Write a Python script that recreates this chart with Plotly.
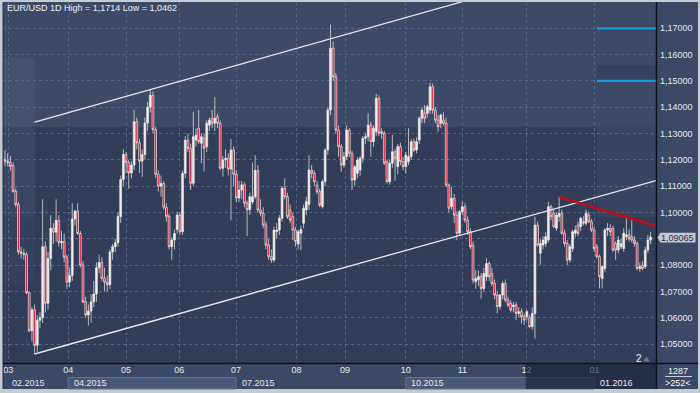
import plotly.graph_objects as go

# ---------------- data ----------------
opens = [1.1200,1.1195,1.1190,1.1180,1.1080,1.1030,1.0850,1.0845,1.0840,1.0695,
1.0550,1.0630,1.0495,1.0590,1.0600,1.0870,1.0655,1.0825,1.0940,1.0925,
1.0970,1.0885,1.0890,1.0830,1.0735,1.0760,1.0975,1.1005,1.0920,1.0800,
1.0660,1.0610,1.0625,1.0660,1.0690,1.0790,1.0810,1.0750,1.0735,1.0725,
1.0850,1.0870,1.0885,1.0985,1.1125,1.1220,1.1190,1.1150,1.1180,1.1345,
1.1265,1.1195,1.1220,1.1340,1.1400,1.1445,1.1315,1.1145,1.1100,1.1110,
1.1020,1.0985,1.0870,1.0895,1.0935,1.0990,1.0927,1.1149,1.1275,1.1244,
1.1111,1.1275,1.1320,1.1263,1.1282,1.1250,1.1332,1.1358,1.1339,1.1364,
1.1339,1.1168,1.1200,1.1206,1.1165,1.1237,1.1145,1.1055,1.1085,1.1105,
1.1035,1.1010,1.1040,1.1060,1.1160,1.1009,1.0997,1.0952,1.0876,1.0832,
1.0819,1.0927,1.0933,1.0978,1.1092,1.1060,1.1009,1.0984,1.0933,1.0880,
1.0921,1.0959,1.1009,1.1030,1.1161,1.1149,1.1104,1.1079,1.1022,1.1117,
1.1237,1.1389,1.1624,1.1516,1.1313,1.1250,1.1180,1.1212,1.1313,1.1225,
1.1123,1.1149,1.1161,1.1206,1.1282,1.1288,1.1332,1.1269,1.1307,1.1434,
1.1307,1.1301,1.1193,1.1117,1.1187,1.1231,1.1174,1.1250,1.1193,1.1174,
1.1193,1.1212,1.1269,1.1237,1.1275,1.1358,1.1377,1.1377,1.1389,1.1478,
1.1389,1.1351,1.1339,1.1351,1.1339,1.1104,1.1022,1.1054,1.0990,1.0921,
1.1003,1.1022,1.0971,1.0927,1.0876,1.0737,1.0743,1.0756,1.0711,1.0756,
1.0806,1.0768,1.0730,1.0686,1.0642,1.0686,1.0730,1.0667,1.0654,1.0642,
1.0648,1.0616,1.0623,1.0604,1.0604,1.0600,1.0566,1.0616,1.0952,1.0845,
1.0876,1.0882,1.0895,1.1022,1.0997,1.0940,1.0984,1.0997,1.0921,1.0882,
1.0819,1.0863,1.0921,1.0952,1.0946,1.0965,1.0959,1.0990,1.0965,1.0933,
1.0870,1.0832,1.0749,1.0787,1.0933,1.0940,1.0940,1.0882,1.0857,1.0870,
1.0863,1.0908,1.0915,1.0908,1.0895,1.0882,1.0787,1.0800,1.0794,1.0857,
1.0895]
highs = [1.1237,1.1225,1.1215,1.1190,1.1090,1.1040,1.0870,1.0860,1.0850,1.0700,
1.0640,1.0650,1.0610,1.0620,1.1050,1.0890,1.0850,1.0990,1.0960,1.1050,
1.0990,1.0930,1.0920,1.0840,1.0790,1.1035,1.1010,1.1035,1.0930,1.0815,
1.0680,1.0650,1.0690,1.0740,1.0810,1.0840,1.0830,1.0790,1.0760,1.0860,
1.0880,1.0900,1.1000,1.1140,1.1240,1.1230,1.1200,1.1195,1.1390,1.1360,
1.1280,1.1240,1.1360,1.1420,1.1467,1.1460,1.1325,1.1160,1.1140,1.1120,
1.1035,1.0995,1.0905,1.0935,1.1003,1.1000,1.1160,1.1290,1.1300,1.1260,
1.1383,1.1320,1.1389,1.1300,1.1300,1.1350,1.1360,1.1390,1.1438,1.1375,
1.1350,1.1215,1.1240,1.1225,1.1280,1.1250,1.1160,1.1120,1.1120,1.1115,
1.1045,1.1075,1.1190,1.1218,1.1180,1.1050,1.1020,1.0965,1.0900,1.0860,
1.0945,1.0960,1.0990,1.1100,1.1130,1.1075,1.1030,1.1000,1.0945,1.0935,
1.0950,1.1030,1.1060,1.1218,1.1180,1.1160,1.1120,1.1090,1.1125,1.1245,
1.1400,1.1714,1.1650,1.1530,1.1330,1.1260,1.1230,1.1330,1.1320,1.1235,
1.1180,1.1210,1.1215,1.1290,1.1300,1.1377,1.1345,1.1330,1.1450,1.1445,
1.1320,1.1310,1.1200,1.1200,1.1295,1.1240,1.1260,1.1265,1.1210,1.1230,
1.1320,1.1280,1.1280,1.1285,1.1365,1.1400,1.1408,1.1410,1.1493,1.1490,
1.1400,1.1370,1.1375,1.1380,1.1360,1.1110,1.1098,1.1070,1.1005,1.1010,
1.1041,1.1035,1.0985,1.0940,1.0890,1.0780,1.0780,1.0770,1.0790,1.0825,
1.0815,1.0790,1.0745,1.0700,1.0690,1.0740,1.0745,1.0680,1.0665,1.0660,
1.0660,1.0640,1.0635,1.0615,1.0630,1.0610,1.0640,1.0984,1.0965,1.0900,
1.0910,1.0925,1.1041,1.1030,1.1010,1.1000,1.1060,1.1010,1.0935,1.0895,
1.0880,1.0935,1.0950,1.0965,1.0984,1.0985,1.1010,1.1003,1.0975,1.0945,
1.0880,1.0840,1.0800,1.0940,1.0960,1.0955,1.0950,1.0890,1.0910,1.0900,
1.0940,1.0984,1.0935,1.0971,1.0910,1.0890,1.0810,1.0815,1.0870,1.0915,
1.0925]
lows = [1.1175,1.1175,1.1160,1.1075,1.1020,1.0840,1.0825,1.0820,1.0690,1.0545,
1.0510,1.0462,1.0470,1.0560,1.0580,1.0620,1.0630,1.0780,1.0880,1.0890,
1.0870,1.0860,1.0810,1.0710,1.0715,1.0740,1.0950,1.0915,1.0790,1.0655,
1.0600,1.0570,1.0580,1.0640,1.0660,1.0770,1.0740,1.0700,1.0700,1.0710,
1.0820,1.0850,1.0870,1.0960,1.1100,1.1150,1.1090,1.1130,1.1160,1.1240,
1.1150,1.1135,1.1200,1.1310,1.1380,1.1300,1.1130,1.1080,1.1060,1.1010,
1.0965,1.0860,1.0820,1.0860,1.0920,1.0915,1.0915,1.1130,1.1230,1.1085,
1.1100,1.1250,1.1260,1.1187,1.1155,1.1230,1.1310,1.1320,1.1310,1.1320,
1.1160,1.1136,1.1170,1.1140,1.0970,1.1100,1.1040,1.1040,1.1050,1.1020,
1.0910,1.0990,1.1030,1.1050,1.1000,1.0985,1.0940,1.0860,1.0820,1.0808,
1.0810,1.0900,1.0915,1.0965,1.1050,1.0975,1.0960,1.0895,1.0870,1.0860,
1.0857,1.0940,1.0990,1.1010,1.1130,1.1100,1.1070,1.1020,1.1015,1.1100,
1.1220,1.1370,1.1500,1.1300,1.1212,1.1155,1.1170,1.1200,1.1210,1.1085,
1.1100,1.1130,1.1140,1.1190,1.1260,1.1270,1.1212,1.1250,1.1290,1.1290,
1.1280,1.1180,1.1110,1.1105,1.1170,1.1120,1.1145,1.1180,1.1160,1.1149,
1.1180,1.1200,1.1230,1.1225,1.1260,1.1340,1.1340,1.1360,1.1375,1.1375,
1.1340,1.1307,1.1320,1.1330,1.1095,1.1000,1.1010,1.0960,1.0895,1.0910,
1.0990,1.0960,1.0915,1.0860,1.0730,1.0710,1.0720,1.0673,1.0700,1.0740,
1.0740,1.0720,1.0670,1.0616,1.0630,1.0670,1.0660,1.0640,1.0620,1.0620,
1.0591,1.0600,1.0578,1.0572,1.0590,1.0560,1.0555,1.0521,1.0870,1.0800,
1.0860,1.0870,1.0885,1.0970,1.0940,1.0930,1.0965,1.0915,1.0870,1.0800,
1.0810,1.0850,1.0905,1.0910,1.0930,1.0950,1.0950,1.0960,1.0925,1.0850,
1.0825,1.0711,1.0711,1.0775,1.0910,1.0910,1.0850,1.0819,1.0845,1.0860,
1.0850,1.0895,1.0890,1.0885,1.0870,1.0780,1.0775,1.0780,1.0785,1.0845,
1.0880]
closes = [1.1195,1.1190,1.1175,1.1080,1.1030,1.0850,1.0845,1.0840,1.0695,1.0550,
1.0630,1.0495,1.0590,1.0600,1.0870,1.0655,1.0825,1.0940,1.0925,1.0970,
1.0885,1.0890,1.0830,1.0735,1.0760,1.0975,1.1005,1.0920,1.0800,1.0660,
1.0610,1.0625,1.0660,1.0690,1.0790,1.0810,1.0750,1.0735,1.0725,1.0850,
1.0870,1.0885,1.0985,1.1125,1.1220,1.1190,1.1150,1.1180,1.1345,1.1265,
1.1195,1.1220,1.1340,1.1400,1.1445,1.1315,1.1145,1.1100,1.1110,1.1020,
1.0985,1.0870,1.0895,1.0920,1.0990,1.0927,1.1149,1.1275,1.1244,1.1111,
1.1288,1.1294,1.1269,1.1288,1.1244,1.1339,1.1351,1.1339,1.1358,1.1339,
1.1168,1.1200,1.1206,1.1165,1.1237,1.1145,1.1055,1.1085,1.1105,1.1035,
1.1010,1.1060,1.1060,1.1160,1.1009,1.0997,1.0952,1.0876,1.0832,1.0819,
1.0933,1.0933,1.0978,1.1092,1.1060,1.0984,1.0971,1.0933,1.0890,1.0927,
1.0935,1.1016,1.1041,1.1161,1.1149,1.1117,1.1079,1.1028,1.1117,1.1237,
1.1389,1.1624,1.1516,1.1313,1.1250,1.1180,1.1212,1.1313,1.1225,1.1123,
1.1174,1.1199,1.1206,1.1282,1.1288,1.1332,1.1269,1.1320,1.1434,1.1301,
1.1301,1.1187,1.1117,1.1187,1.1231,1.1206,1.1250,1.1193,1.1174,1.1218,
1.1212,1.1269,1.1237,1.1269,1.1358,1.1389,1.1358,1.1402,1.1478,1.1389,
1.1351,1.1326,1.1370,1.1339,1.1104,1.1016,1.1054,1.0990,1.0921,1.1003,
1.1022,1.0971,1.0927,1.0870,1.0743,1.0749,1.0756,1.0711,1.0768,1.0806,
1.0756,1.0730,1.0686,1.0642,1.0686,1.0730,1.0667,1.0648,1.0629,1.0648,
1.0616,1.0623,1.0604,1.0591,1.0623,1.0566,1.0616,1.0952,1.0876,1.0882,
1.0895,1.0908,1.1022,1.0984,1.0946,1.0990,1.0997,1.0921,1.0882,1.0819,
1.0870,1.0927,1.0933,1.0921,1.0978,1.0959,1.0997,1.0965,1.0933,1.0863,
1.0832,1.0756,1.0794,1.0933,1.0940,1.0927,1.0857,1.0857,1.0895,1.0882,
1.0921,1.0915,1.0900,1.0895,1.0882,1.0787,1.0794,1.0787,1.0857,1.0895,
1.09065]
bar_index = list(range(len(closes)))

month_tick_pos = [1.2, 23.5, 45.0, 64.8, 85.9, 108.4, 126.4, 149.0, 170.0, 193.9, 219.1]
month_tick_text = ["03", "04", "05", "06", "07", "08", "09", "10", "11", "12", "01"]
quarter_pos = [-0.74, 23.5, 85.9, 149.0, 219.1]
quarter_text = ["02.2015", "04.2015", "07.2015", "10.2015", "01.2016"]
price_ticks = [1.05, 1.06, 1.07, 1.08, 1.09, 1.10, 1.11, 1.12, 1.13, 1.14, 1.15, 1.16, 1.17]
price_text = ["1,05000", "1,06000", "1,07000", "1,08000", "", "1,10000", "1,11000",
              "1,12000", "1,13000", "1,14000", "1,15000", "1,16000", "1,17000"]

upper_channel_x = [11, 170]
upper_channel_y = [1.1343, 1.1801]
lower_channel_x = [11, 242]
lower_channel_y = [1.0462, 1.1121]
red_trend_x = [206, 242]
red_trend_y = [1.1060, 1.0948]
level_x = [220.1, 242]
level_1 = [1.17, 1.17]
level_2 = [1.15, 1.15]
last_price = "1,09065"
title_text = "EUR/USD 1D High = 1,1714 Low = 1,0462"

# ---------------- layout geometry ----------------
W, H = 700, 393
L, R, T, B = 3, 656, 2, 363
X0, X1 = -0.7435, 242.007
Y0, Y1 = 1.04278, 1.17999

def px2x(px):
    return X0 + (px - L) / (R - L) * (X1 - X0)

def py2y(py):
    return Y1 - (py - T) / (B - T) * (Y1 - Y0)

def xp(px):
    return (px - L) / (R - L)

def yp(py):
    return (B - py) / (B - T)

def x2px(x):
    return L + (x - X0) / (X1 - X0) * (R - L)

FONT = "Liberation Sans, Arial, sans-serif"
TXT = "#e4e8f0"

fig = go.Figure()

fig.add_trace(go.Candlestick(
    x=bar_index, open=opens, high=highs, low=lows, close=closes,
    increasing=dict(line=dict(color="#f2ede8", width=0.7), fillcolor="#f2ede8"),
    decreasing=dict(line=dict(color="#f2ede8", width=0.7), fillcolor="#e3092c"),
    whiskerwidth=0, hoverinfo="skip", showlegend=False))

for xs, ys, col, w in [(upper_channel_x, upper_channel_y, "#e6eaf0", 1.3),
                       (lower_channel_x, lower_channel_y, "#e6eaf0", 1.3),
                       (red_trend_x, red_trend_y, "#b5121b", 2.6),
                       (level_x, level_1, "#119fdc", 2.2),
                       (level_x, level_2, "#119fdc", 2.2)]:
    fig.add_trace(go.Scatter(x=xs, y=ys, mode="lines", line=dict(color=col, width=w),
                             hoverinfo="skip", showlegend=False))

shapes = []
# background shading inside plot (data refs, below grid)
def bgrect(x_a, x_b, y_a, y_b, col):
    shapes.append(dict(type="rect", xref="x", yref="y", layer="below",
                       x0=px2x(x_a), x1=px2x(x_b), y0=py2y(y_b), y1=py2y(y_a),
                       fillcolor=col, line=dict(width=0)))

bgrect(L, R, T, 127, "#3d4a67")
bgrect(L, 35, 58, 127, "#44516e")
bgrect(L, 35, 127, 217, "#3a4764")
bgrect(L, 35, 217, 283, "#35415e")
bgrect(597, R, 65, 80.5, "#36425f")
bgrect(597, R, 127, 217, "#384461")

# outer areas (paper refs)
def prect(x_a, x_b, y_a, y_b, col, layer="below", line=None):
    shapes.append(dict(type="rect", xref="paper", yref="paper", layer=layer,
                       x0=xp(x_a), x1=xp(x_b), y0=yp(y_b), y1=yp(y_a),
                       fillcolor=col, line=line or dict(width=0)))

prect(L, 698, B, 389, "#3c4966")
prect(R, 698, T, 389, "#3c4966")
# quarter boxes (light)
for qa, qb in [(23.5, 85.9), (149.0, 219.1)]:
    prect(x2px(qa), x2px(qb), 377.5, 389, "#4a5877",
          line=dict(color="#64718e", width=1))
# dim overlay at right end of the time axis
prect(525.7, R, B + 0.8, 389, "rgba(22,29,50,0.6)", layer="above")

# separator lines
shapes.append(dict(type="line", xref="paper", yref="paper", layer="above",
                   x0=xp(R + 0.5), x1=xp(R + 0.5), y0=yp(389), y1=yp(T),
                   line=dict(color="#0c111d", width=1.5)))
shapes.append(dict(type="line", xref="paper", yref="paper", layer="above",
                   x0=xp(L), x1=xp(698), y0=yp(B + 0.5), y1=yp(B + 0.5),
                   line=dict(color="#0c111d", width=1.5)))
shapes.append(dict(type="line", xref="paper", yref="paper", layer="above",
                   x0=xp(L), x1=xp(L), y0=yp(389), y1=yp(T),
                   line=dict(color="#2a3146", width=1)))
shapes.append(dict(type="line", xref="paper", yref="paper", layer="above",
                   x0=xp(665), x1=xp(692), y0=yp(376.5), y1=yp(376.5),
                   line=dict(color="#c9ced8", width=1)))
# last price marker
path = "M {},{} L {},{} L {},{} L {},{} L {},{} Z".format(
    xp(657.5), yp(237.6), xp(660.5), yp(232.8), xp(695.5), yp(232.8),
    xp(695.5), yp(242.4), xp(660.5), yp(242.4))
shapes.append(dict(type="path", xref="paper", yref="paper", layer="above", path=path,
                   fillcolor="#c3c8d1", line=dict(width=0)))
# small triangle near the "2" marker
tri = "M {},{} L {},{} L {},{} Z".format(xp(643), yp(361.5), xp(646.5), yp(356.5),
                                        xp(650), yp(361.5))
shapes.append(dict(type="path", xref="paper", yref="paper", layer="above", path=tri,
                   fillcolor="#6a7793", line=dict(width=0)))

annotations = []
def ann(px, py, text, col=TXT, size=9, anchor="left"):
    annotations.append(dict(xref="paper", yref="paper", x=xp(px), y=yp(py), text=text,
                            showarrow=False, xanchor=anchor, yanchor="middle",
                            font=dict(family=FONT, size=size, color=col)))

ann(5, 7.8, title_text, col="#eef1f6")
ann(677, 237.8, last_price, col="#263049", anchor="center")
ann(678, 371.3, "1287", col="#eef1f6", anchor="center")
ann(678, 383, ">252<", col="#eef1f6", anchor="center")
ann(639, 358.6, "2", col="#f2f4f8", size=10, anchor="center")
for qx, qt in zip(quarter_pos, quarter_text):
    q_px = max(x2px(qx), L) + 3.5
    if qt == "02.2015":
        q_px = 10
    ann(q_px, 382.6, qt)

fig.update_layout(
    width=W, height=H,
    margin=dict(l=L, r=W - R, t=T, b=H - B),
    paper_bgcolor="#c6cbd3", plot_bgcolor="#313d59",
    boxgap=0.05,
    showlegend=False,
    shapes=shapes, annotations=annotations,
    xaxis=dict(range=[X0, X1], tickmode="array", tickvals=month_tick_pos,
               ticktext=month_tick_text, showgrid=True, gridcolor="#56658a",
               griddash="3px,3px", gridwidth=1, zeroline=False, showline=False,
               ticks="", tickfont=dict(family=FONT, size=9, color=TXT),
               rangeslider=dict(visible=False), fixedrange=True),
    yaxis=dict(range=[Y0, Y1], side="right", tickmode="array", tickvals=price_ticks,
               ticktext=price_text, showgrid=True, gridcolor="#56658a",
               griddash="3px,3px", gridwidth=1, zeroline=False, showline=False,
               ticks="", ticklabelstandoff=3,
               tickfont=dict(family=FONT, size=9, color=TXT), fixedrange=True),
)

fig.write_html("out.html", config={"displayModeBar": False})
